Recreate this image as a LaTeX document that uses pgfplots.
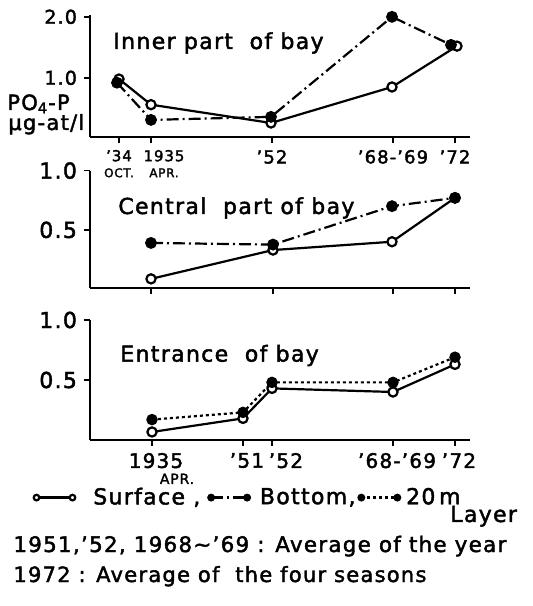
\documentclass[border=0pt]{standalone}
\usepackage{pgfplots}
\pgfplotsset{compat=1.18}
\usepackage{fontspec}
\setmainfont{DejaVu Sans}[LetterSpace=6, FakeBold=2]
\pgfplotsset{
  panel/.style={scale only axis, width=190pt, xmin=90, xmax=470,
    axis lines=left, axis line style={-, line width=1.1pt},
    tick style={black, line width=0.9pt}, tick align=outside, major tick length=3pt,
    clip=false, /pgf/number format/assume math mode=true,
    every axis plot/.append style={line width=1.1pt},
    legend image code/.code={\draw[##1] plot coordinates {(0pt,0pt) (18pt,0pt)};},
  },
  surf/.style={black, solid, mark=*, mark options={fill=white, solid}, mark size=2.3pt},
  bot/.style={black, dash pattern=on 6pt off 2pt on 1pt off 2pt, mark=*, mark options={solid, fill=black}, mark size=2.4pt},
  twenty/.style={black, dash pattern=on 1.5pt off 1.5pt, mark=*, mark options={solid, fill=black}, mark size=2.3pt},
}
\begin{document}
\begin{tikzpicture}
\path[use as bounding box] (0,0) rectangle (266.5pt,303pt);
% Panel 1: inner part of bay
\begin{axis}[panel, at={(45pt,234.5pt)}, anchor=south west, height=61pt,
  ymin=0.03, ymax=2.03, ytick={1,2}, yticklabels={1.0,2.0},
  yticklabel style={font=\fontsize{9.5}{10}\selectfont},
  xtick={119,151,272,393,455},
  xticklabel style={font=\fontsize{9}{10}\selectfont, align=center},
  xticklabels={{\fontsize{7.5}{8}\selectfont '34\\[-2pt]\fontsize{6}{7}\selectfont OCT.},
    {\fontsize{7.5}{8}\selectfont\hspace*{13pt}1935\\[-2pt]\fontsize{6}{7}\selectfont\hspace*{13pt}APR.},
    '52, '68-'69, '72}]
\addplot[surf, forget plot] coordinates {(119,0.98) (151,0.56) (271,0.26) (392,0.85) (457,1.52)};
\addplot[bot, forget plot] coordinates {(117,0.92) (151,0.31) (271,0.36) (392,2.0) (451,1.54)};
\end{axis}
% Panel 2: central part of bay
\begin{axis}[panel, at={(45pt,159pt)}, anchor=south west, height=58.7pt,
  ymin=0.01, ymax=1.0, ytick={0.5,1}, yticklabels={0.5,1.0},
  yticklabel style={font=\fontsize{11}{12}\selectfont},
  xtick={151,273,393,455}, xticklabels={}]
\addplot[surf, forget plot] coordinates {(151,0.087) (273,0.33) (392,0.40) (455,0.77)};
\addplot[bot, forget plot] coordinates {(151,0.39) (273,0.376) (392,0.70) (455,0.77)};
\end{axis}
% Panel 3: entrance of bay
\begin{axis}[panel, at={(45pt,83pt)}, anchor=south west, height=60pt,
  ymin=0, ymax=1.0, ytick={0.5,1}, yticklabels={0.5,1.0},
  yticklabel style={font=\fontsize{11}{12}\selectfont},
  xtick={152,243,272,393,455},
  xticklabel style={font=\fontsize{10}{11}\selectfont, align=center, xshift=2pt},
  xticklabels={{1935\\[-3pt]\hspace*{21pt}\fontsize{7}{8}\selectfont APR.}, '51, \hspace*{10pt}'52, '68-'69, '72},
  legend style={at={(axis description cs:-0.165,-0.48)}, anchor=west, draw=none, fill=none,
    legend columns=3, font=\fontsize{11}{12}\selectfont,
    nodes={inner xsep=0pt}, /tikz/column sep=0pt},
  ]
\addlegendimage{surf, mark size=1.4pt}\addlegendentry{\hspace*{9pt}Surface ,\hspace*{4pt}}
\addlegendimage{bot, mark size=1.4pt}\addlegendentry{\hspace*{5pt}Bottom,\hspace*{1.5pt}}
\addlegendimage{twenty, mark size=1.4pt}\addlegendentry{\hspace*{3pt}20\,m}
\addplot[surf, forget plot] coordinates {(152,0.067) (243,0.18) (272,0.43) (393,0.40) (455,0.63)};
\addplot[twenty, forget plot] coordinates {(152,0.17) (243,0.23) (272,0.48) (393,0.48) (455,0.69)};
\end{axis}
% titles and texts
\node[anchor=base west, font=\fontsize{11}{12}\selectfont, inner sep=0pt] at (56.5pt,278.5pt) {Inner part\ \ of bay};
\node[anchor=base west, font=\fontsize{11}{12}\selectfont, inner sep=0pt] at (59pt,196pt) {Central\ \ part of bay};
\node[anchor=base west, font=\fontsize{11}{12}\selectfont, inner sep=0pt] at (60pt,122.2pt) {Entrance\ \ of bay};
\node[anchor=base west, font=\fontsize{10.5}{12}\selectfont, inner sep=0pt] at (3.5pt,248pt) {PO\textsubscript{4}-P};
\node[anchor=base west, font=\fontsize{10.5}{12}\selectfont, inner sep=0pt] at (4pt,238pt) {μg-at/l};
\node[anchor=base west, font=\fontsize{11}{12}\selectfont, inner sep=0pt] at (225pt,42pt) {Layer};
\node[anchor=base west, font=\fontsize{10.7}{12}\selectfont, inner sep=0pt] at (6.5pt,27pt) {1951,'52, 1968\textasciitilde'69 : Average of the year};
\node[anchor=base west, font=\fontsize{10.5}{12}\selectfont, inner sep=0pt] at (6.5pt,12pt) {1972 : Average of\ \ the four seasons};
\end{tikzpicture}
\end{document}
